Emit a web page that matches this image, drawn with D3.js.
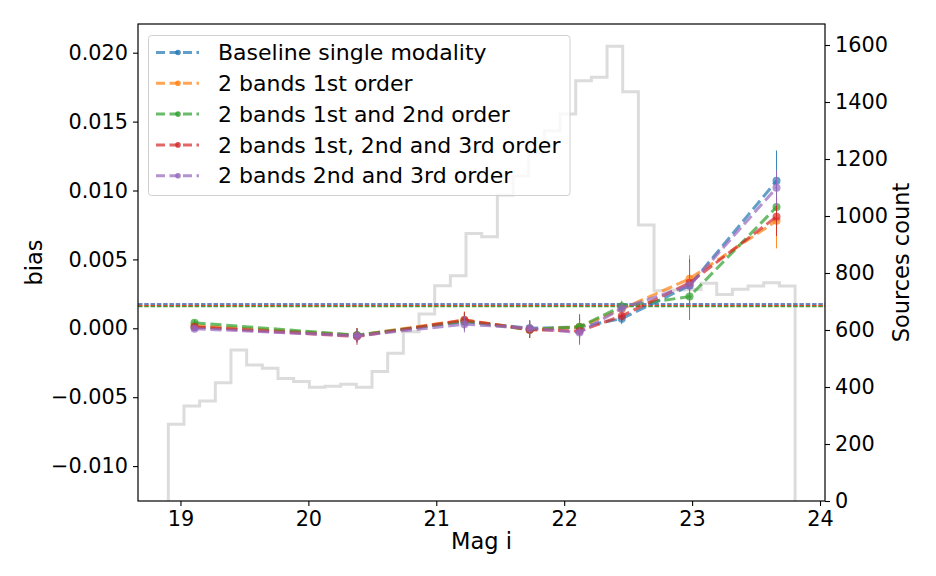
<!DOCTYPE html>
<html><head><meta charset="utf-8">
<script src="https://cdn.jsdelivr.net/npm/d3@7"></script>
<style>body{margin:0;background:#fff}svg{display:block;font-family:"DejaVu Sans",sans-serif}</style>
</head><body><svg id="c" width="936" height="576"></svg>
<script>
const mags = [19.11, 20.38, 21.22, 21.73, 22.12, 22.45, 22.98, 23.66];
const seriesNames = ["Baseline single modality","2 bands 1st order","2 bands 1st and 2nd order","2 bands 1st, 2nd and 3rd order","2 bands 2nd and 3rd order"];
const colors = ["#1f77b4","#ff7f0e","#2ca02c","#d62728","#9467bd"];
const biasBaseline = [0.0001, -0.0005, 0.0005, 0.0000, 0.0001, 0.0007, 0.0031, 0.0107];
const bias1st      = [0.0002, -0.0005, 0.0006, -0.0001, 0.0001, 0.0014, 0.0036, 0.0078];
const bias1st2nd   = [0.0004, -0.0005, 0.0005, -0.0001, 0.0001, 0.0016, 0.0023, 0.0088];
const bias123      = [0.0001, -0.0006, 0.0006, -0.0001, -0.0002, 0.0009, 0.0033, 0.0081];
const bias23       = [-0.00003, -0.00055, 0.0003, 0.0000, -0.0003, 0.00145, 0.0031, 0.0102];
const errBaseline = [0.0002, 0.0005, 0.0006, 0.0006, 0.0009, 0.0004, 0.0017, 0.0022];
const err1st      = [0.0002, 0.0005, 0.0006, 0.0006, 0.0009, 0.0004, 0.0017, 0.0020];
const err1st2nd   = [0.0002, 0.0005, 0.0006, 0.0006, 0.0009, 0.0004, 0.0017, 0.0015];
const err123      = [0.0002, 0.0006, 0.0006, 0.0006, 0.0009, 0.0004, 0.0017, 0.0014];
const err23       = [0.0002, 0.0005, 0.0006, 0.0006, 0.0009, 0.0004, 0.0017, 0.0013];
const meanBias = [0.00176, 0.00165, 0.00157, 0.00163, 0.00177];
const histStart = 18.905, histWidth = 0.1225;
const histCounts = [269,333,351,415,530,477,466,430,419,399,403,410,399,454,518,594,656,755,790,939,
                    927,1074,1140,1220,1299,1358,1475,1487,1596,1436,968,738,740,742,764,725,743,754,766,754];
const xTicks = [19,20,21,22,23,24];
const yTicks = [-0.010,-0.005,0,0.005,0.010,0.015,0.020];
const y2Ticks = [0,200,400,600,800,1000,1200,1400,1600];

const biasSeries = [biasBaseline,bias1st,bias1st2nd,bias123,bias23];
const errSeries = [errBaseline,err1st,err1st2nd,err123,err23];

const L=138, R=825, T=24, B=501;
const FS = "20.8px", FL = "22px", FA = "22.5px";
const svg = d3.select("#c");
const x = d3.scaleLinear().domain([18.668, 24.039]).range([L,R]);
const y = d3.scaleLinear().domain([-0.012533, 0.022083]).range([B,T]);
const y2 = d3.scaleLinear().domain([0, 1673.7]).range([B,T]);

// histogram (step)
const edges = d3.range(histCounts.length+1).map(i=>histStart+i*histWidth);
const pts = [[edges[0],0]];
histCounts.forEach((c,i)=>{pts.push([edges[i],c]);pts.push([edges[i+1],c]);});
pts.push([edges[edges.length-1],0]);
svg.append("path").attr("d", d3.line().x(d=>x(d[0])).y(d=>y2(d[1]))(pts))
  .attr("fill","none").attr("stroke","#dcdcdc").attr("stroke-width",3);

// mean lines
const meanOrder = [4,0,1,3,2];
meanOrder.forEach(i=>{
  const m = meanBias[i];
  svg.append("line").attr("x1",L).attr("x2",R).attr("y1",y(m)).attr("y2",y(m))
    .attr("stroke",colors[i]).attr("stroke-width",1.2).attr("stroke-dasharray","4.4,1.9").attr("opacity",0.9);
});

// series
biasSeries.forEach((vals,s)=>{
  const g = svg.append("g");
  vals.forEach((v,i)=>{
    g.append("line").attr("x1",x(mags[i])).attr("x2",x(mags[i]))
     .attr("y1",y(v-errSeries[s][i])).attr("y2",y(v+errSeries[s][i]))
     .attr("stroke",colors[s]).attr("stroke-width",1).attr("opacity",0.9);
  });
  g.append("path").attr("d", d3.line().x((d,i)=>x(mags[i])).y(d=>y(d))(vals))
   .attr("fill","none").attr("stroke",colors[s]).attr("stroke-width",3)
   .attr("stroke-dasharray","11.1,4.8").attr("opacity",0.7);
  g.selectAll("circle").data(vals).join("circle")
   .attr("cx",(d,i)=>x(mags[i])).attr("cy",d=>y(d)).attr("r",4)
   .attr("fill",colors[s]).attr("opacity",0.7);
});

// frame
svg.append("rect").attr("x",L).attr("y",T).attr("width",R-L).attr("height",B-T)
  .attr("fill","none").attr("stroke","#000").attr("stroke-width",1.2);

// axes
const ax = svg.append("g").attr("transform",`translate(0,${B})`)
  .call(d3.axisBottom(x).tickValues(xTicks).tickFormat(d3.format("d")).tickSize(5).tickPadding(5));
const ayl = svg.append("g").attr("transform",`translate(${L},0)`)
  .call(d3.axisLeft(y).tickValues(yTicks).tickFormat(d3.format(".3f")).tickSize(5).tickPadding(5));
const ayr = svg.append("g").attr("transform",`translate(${R},0)`)
  .call(d3.axisRight(y2).tickValues(y2Ticks).tickFormat(d3.format("d")).tickSize(5).tickPadding(5));
[ax,ayl,ayr].forEach(a=>{
  a.select(".domain").remove();
  a.selectAll("text").attr("font-size",FS).attr("font-family","DejaVu Sans").attr("fill","#000");
  a.selectAll("line").attr("stroke","#000").attr("stroke-width",1.1);
});

svg.append("text").attr("x",(L+R)/2).attr("y",549).attr("text-anchor","middle").attr("font-size",FA).text("Mag i");
svg.append("text").attr("transform",`translate(42,${(T+B)/2}) rotate(-90)`).attr("text-anchor","middle").attr("font-size",FA).text("bias");
svg.append("text").attr("transform",`translate(909,${(T+B)/2}) rotate(-90)`).attr("text-anchor","middle").attr("font-size",FA).text("Sources count");

// legend
const lg = svg.append("g");
lg.append("rect").attr("x",148.5).attr("y",35.5).attr("width",421.5).attr("height",160).attr("rx",3)
  .attr("fill","#fff").attr("fill-opacity",0.8).attr("stroke","#d0d0d0").attr("stroke-width",1);
seriesNames.forEach((n,i)=>{
  const yy = 52.5 + i*30.8;
  lg.append("line").attr("x1",156).attr("x2",199).attr("y1",yy).attr("y2",yy)
    .attr("stroke",colors[i]).attr("stroke-width",3).attr("stroke-dasharray","9,4.5").attr("opacity",0.7);
  lg.append("circle").attr("cx",178).attr("cy",yy).attr("r",2.8).attr("fill",colors[i]).attr("opacity",0.8);
  lg.append("text").attr("x",218).attr("y",yy).attr("dy","0.35em").attr("font-size",FL).text(n);
});
</script></body></html>
